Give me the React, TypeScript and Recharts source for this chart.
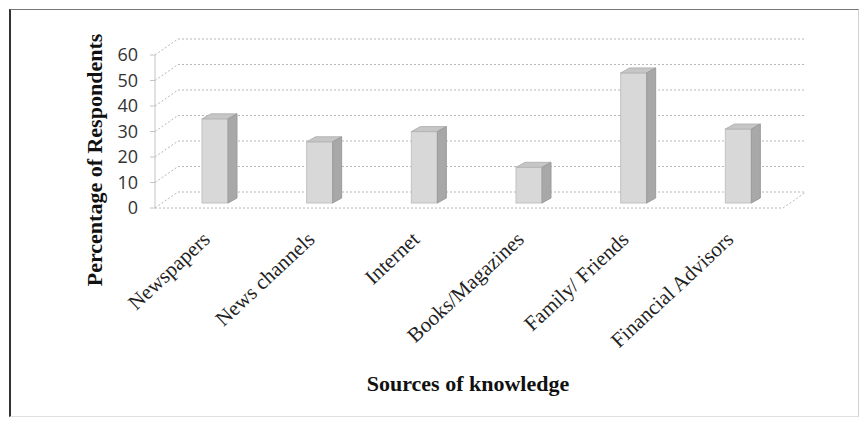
import React from 'react';
import { BarChart, Bar, XAxis, YAxis, CartesianGrid, Label } from 'recharts';

const categories = ['Newspapers', 'News channels', 'Internet', 'Books/Magazines', 'Family/ Friends', 'Financial Advisors'];
const percentages = [33, 24, 28, 14, 51, 29];
const yTicks = [0, 10, 20, 30, 40, 50, 60];

const chartData = categories.map((name, i) => ({ name, value: percentages[i] }));

// oblique depth of the back wall, and of each column
const WALL_DX = 23;
const WALL_DY = -16;
const BAR_OX = 8;
const BAR_OY = -5;
const BAR_DX = 9;
const BAR_DY = -5;

const gridStroke = '#b8b8b8';

const GridLine = (props: any) => {
  const { x1, y1, x2, y2, index } = props;
  const isFloor = index === 0 || Math.abs(y1 - 208) < 1;
  return (
    <g>
      <line x1={x1} y1={y1} x2={x1 + WALL_DX} y2={y1 + WALL_DY} stroke={gridStroke} strokeDasharray="2 2" />
      <line x1={x1 + WALL_DX} y1={y1 + WALL_DY} x2={x2 + WALL_DX} y2={y2 + WALL_DY} stroke={gridStroke} strokeDasharray="2 2" />
      {isFloor && (
        <>
          <line x1={x1} y1={y1} x2={x2} y2={y2} stroke={gridStroke} strokeDasharray="2 2" />
          <line x1={x2} y1={y2} x2={x2 + WALL_DX} y2={y2 + WALL_DY} stroke={gridStroke} strokeDasharray="2 2" />
        </>
      )}
    </g>
  );
};

const Column3D = (props: any) => {
  const { x, y, width, height } = props;
  if (typeof x !== 'number' || typeof y !== 'number') return null;
  const fx = x + BAR_OX;
  const fy = y + BAR_OY;
  const top = `${fx},${fy} ${fx + BAR_DX},${fy + BAR_DY} ${fx + width + BAR_DX},${fy + BAR_DY} ${fx + width},${fy}`;
  const side = `${fx + width},${fy} ${fx + width + BAR_DX},${fy + BAR_DY} ${fx + width + BAR_DX},${fy + height + BAR_DY} ${fx + width},${fy + height}`;
  return (
    <g>
      <rect x={fx} y={fy} width={width} height={height} fill="#d8d8d8" stroke="#c2c2c2" strokeWidth={1} />
      <polygon points={top} fill="#c6c6c6" stroke="#b4b4b4" strokeWidth={1} />
      <polygon points={side} fill="#a8a8a8" stroke="#9c9c9c" strokeWidth={1} />
    </g>
  );
};

const CategoryTick = (props: any) => {
  const { x, y, payload } = props;
  const tx = x + 4;
  const ty = y + 25;
  return (
    <text
      x={tx}
      y={ty}
      transform={`rotate(-43, ${tx}, ${ty})`}
      textAnchor="end"
      fontFamily="'Liberation Serif', 'Times New Roman', serif"
      fontSize={21}
      fill="#222"
    >
      {payload.value}
    </text>
  );
};

const ValueTick = (props: any) => {
  const { x, y, payload } = props;
  return (
    <text x={x} y={y} dy="0.36em" textAnchor="end" fontFamily="'Open Sans', sans-serif" fontSize={18} fill="#333">
      {payload.value}
    </text>
  );
};

export default function App() {
  return (
    <div style={{ position: 'absolute', left: 0, top: 0, width: 863, height: 425, background: '#fff' }}>
      <div
        style={{
          position: 'absolute',
          left: 9,
          top: 9,
          width: 847,
          height: 406,
          borderLeft: '2px solid #333',
          borderTop: '1px solid #777',
          borderRight: '1px solid #d0d0d0',
          borderBottom: '1px solid #e0e0e0',
        }}
      />
      <div style={{ position: 'absolute', left: 0, top: 0 }}>
        <BarChart width={863} height={425} data={chartData} margin={{ top: 55, right: 80, left: 110, bottom: 117 }}>
          <CartesianGrid vertical={false} horizontal={(p: any) => <GridLine key={p.key} {...p} />} />
          <XAxis
            dataKey="name"
            axisLine={false}
            tickLine={false}
            height={100}
            interval={0}
            tick={<CategoryTick />}
          >
            <Label
              content={() => (
                <text
                  x={468}
                  y={391}
                  textAnchor="middle"
                  fontFamily="'Liberation Serif', 'Times New Roman', serif"
                  fontWeight="bold"
                  fontSize={22}
                  fill="#111"
                >
                  Sources of knowledge
                </text>
              )}
            />
          </XAxis>
          <YAxis
            domain={[0, 60]}
            ticks={yTicks}
            width={45}
            axisLine={{ stroke: '#c4c4c4' }}
            tickLine={{ stroke: '#c4c4c4' }}
            tickSize={5}
            tickMargin={12}
            tick={<ValueTick />}
          >
            <Label
              content={() => (
                <text
                  x={94}
                  y={160}
                  transform="rotate(-90, 94, 160)"
                  dy="0.35em"
                  textAnchor="middle"
                  fontFamily="'Liberation Serif', 'Times New Roman', serif"
                  fontWeight="bold"
                  fontSize={22}
                  fill="#111"
                >
                  Percentage of Respondents
                </text>
              )}
            />
          </YAxis>
          <Bar dataKey="value" barSize={26} shape={<Column3D />} isAnimationActive={false} />
        </BarChart>
      </div>
    </div>
  );
}
